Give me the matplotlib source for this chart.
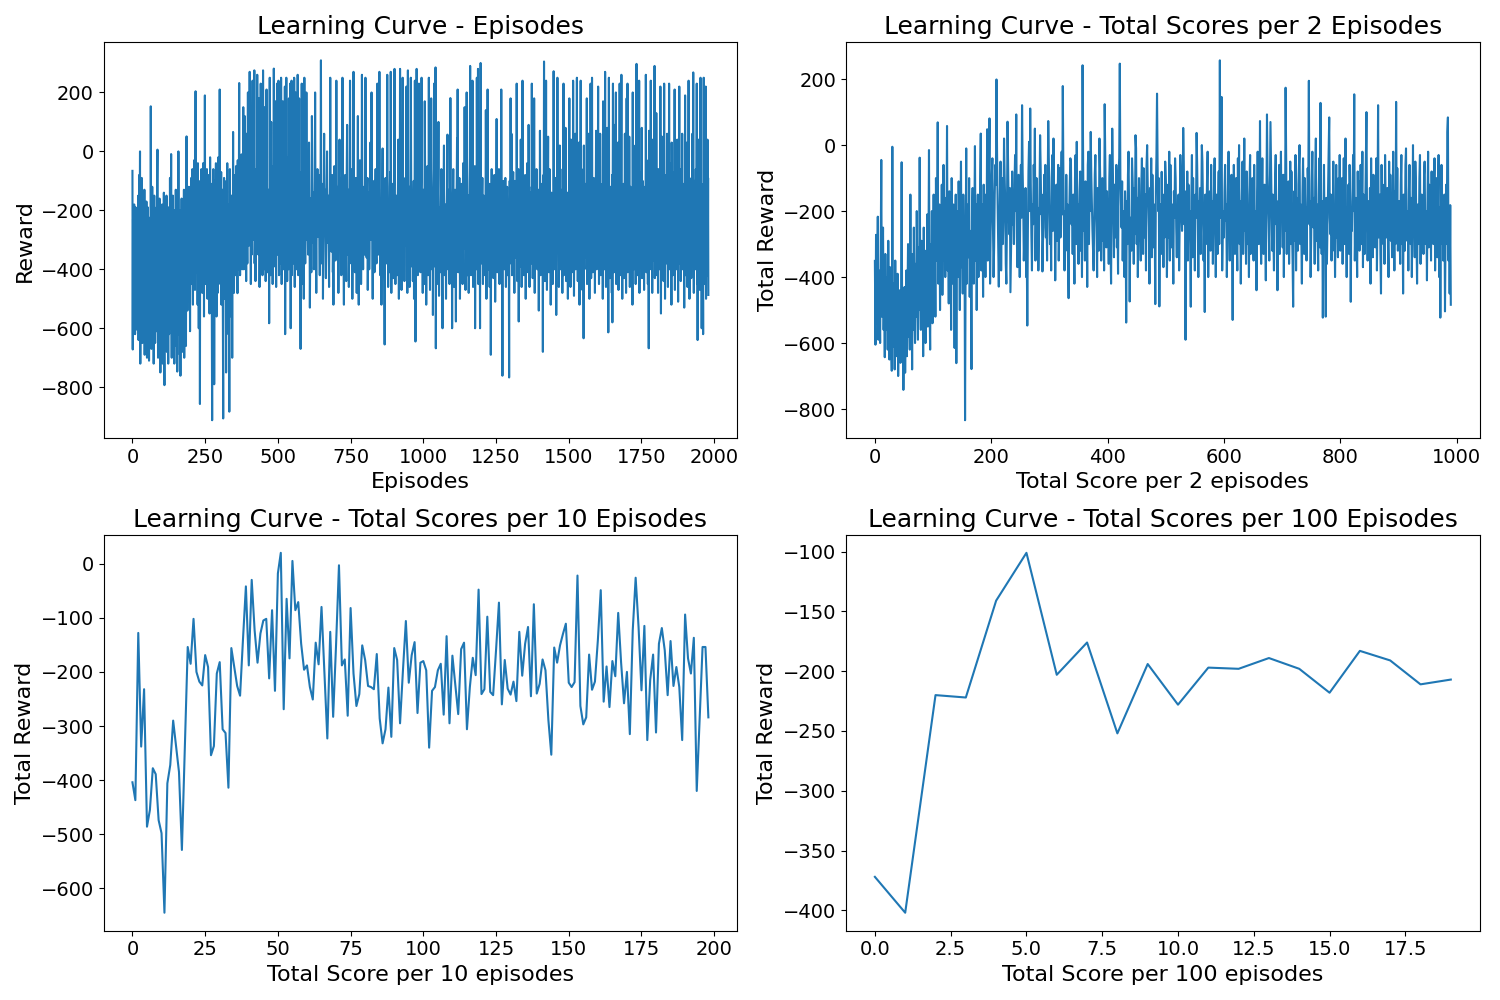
import matplotlib
matplotlib.use('Agg')
from matplotlib import pyplot as plt

# Reward of every episode (1981 episodes)
episode_rewards = [
    # 0-99
    -66, -672, -230, -512, -610, -295, -180, -540, -455, -620, -350, -190, -470, -560, -390, -225, -605, -300, -410, -520,
    -150, -640, -380, -80, -455, -260, 0, -720, -310, -495, -180, -580, -90, -430, -650, -270, -520, -360, -205, -600,
    -440, -130, -690, -340, -510, -240, -620, -395, -170, -560, -700, -300, -450, -190, -615, -520, -260, -710, -380, -480,
    -225, -590, -430, 153, -350, -670, -280, -540, -120, -460, -600, -330, -200, -720, -410, -150, -560, -300, -650, -240,
    -480, -380, -610, -190, -520, -100, 6, -440, -700, -350, -250, -590, -450, -160, -680, -300, -750, -420, -220, -540,
    # 100-199
    -620, -330, -180, -480, -720, -260, -560, -400, -140, -650, -793, -380, -240, -520, -610, -300, -450, -150, -680, -420,
    -260, -560, -350, -720, -190, -470, -620, -280, -520, -90, -400, -600, -330, -9, -480, -700, -240, -560, -380, -150,
    -640, -300, -500, -200, -720, -420, -580, -260, -470, -130, -660, -350, -550, -230, -747, -400, -300, -620, 0, -480,
    -350, -580, -200, -690, -440, -761, -270, -520, -380, -160, -600, -310, -480, -680, -240, -420, -560, -130, -700, -340,
    -460, -250, -590, -380, -660, -200, 51, -430, -310, -540, -180, -400, -260, -510, -120, -350, -450, -230, -610, -300,
    # 200-299
    -180, -380, -90, -300, -450, -220, -60, -340, -520, -140, -260, -400, -30, -310, -200, -470, -120, 204, -350, -240,
    -410, -90, -280, -180, -520, -40, -330, -250, -600, -150, -380, -230, -857, -100, -300, -440, -190, -60, -360, -270,
    -480, -130, -320, -40, -400, -210, -560, -90, -290, 190, -350, -180, -450, -250, -120, -380, -60, -290, -500, -200,
    -330, -80, -420, -240, -170, -550, -300, -20, -380, -200, -460, -110, -280, -650, -912, -250, -130, -400, -60, -320,
    -220, -790, -350, -100, -460, -180, -280, -40, -400, -560, -210, -320, -120, -480, -250, -20, -360, -170, -440, -270,
    # 300-399
    210, -300, -450, -160, -380, -70, -520, -250, -400, -130, -330, -600, -906, -200, -430, -90, -350, -270, -500, -150,
    -380, -240, -750, -100, -460, -300, -40, -520, -220, -350, -620, -180, -420, -883, -280, -60, -480, -330, -200, -560,
    -410, -150, -300, -700, -230, -450, 66, -340, -190, -480, -260, -80, -380, -150, -300, -420, -50, -250, -350, -120,
    -280, -481, -30, -330, -200, -400, -100, 232, -300, -180, -420, -70, -250, -350, -150, -10, -280, -400, -60, -220,
    -330, 150, -180, -400, -90, -260, 120, -350, -200, -30, -300, -440, -150, 60, -250, -380, -100, 200, -320, -180,
    # 400-499
    -250, -160, -60, 270, -180, -320, -240, -450, -200, -90, -350, -130, 30, 240, -140, -280, -30, -300, -210, 275,
    -380, -300, -150, -440, -60, -190, -320, -240, -120, 260, -80, -160, -270, -350, -220, 180, -100, -460, -300, -20,
    -170, 230, -80, -250, -330, -160, -210, -420, -300, 275, -190, -100, -400, -250, -140, 150, -350, -220, -440, -300,
    -80, 210, -120, -260, -350, -410, -200, -130, -360, -240, -583, -190, 250, -100, -60, -420, -300, 100, -240, -150,
    -260, -120, -450, -180, -50, -310, 281, -120, -390, -240, -160, -330, 170, -200, -460, -100, -280, 230, -350, -170,
    # 500-599
    -40, -200, 240, -220, -420, -130, -260, -60, -380, -160, -330, 250, -100, -450, -200, -120, -350, 170, -280, -140,
    -400, -150, -230, -330, 220, -620, -180, -90, -360, 250, -250, -150, -440, -20, -300, -200, -50, -400, 180, -270,
    -120, -350, 230, -210, -600, -80, -290, 240, -420, -170, -230, -320, -40, -250, -380, -100, 250, -220, -460, -160,
    -300, 200, -180, -400, -130, -60, -350, -240, 260, -150, -420, -220, -270, 180, -330, -200, -70, -380, -670, -240,
    -100, -300, 230, -210, -450, -160, 50, -330, -180, -500, -290, 250, -260, -140, -380, -40, -220, -300, 200, -160,
    # 600-699
    -180, -240, -120, -300, -350, -210, -90, 30, -150, -260, -530, -330, -200, -160, -280, -410, -240, 120, -60, -190,
    -250, -310, -180, -140, -400, -360, -220, -100, 200, -120, -270, -330, -480, -300, -210, -170, -60, -230, -290, -200,
    -140, -80, -260, -350, -420, -300, -180, -40, 309, -150, -220, -380, -260, -190, -110, -500, -320, -240, -160, 60,
    -200, -270, -130, -210, -350, -430, -290, -170, -90, 0, -240, -310, -200, -150, -260, -380, -460, -280, -180, -120,
    250, -60, -220, -290, -340, -200, -150, -80, -260, -410, -330, -520, -210, -130, -50, -180, -240, -300, -370, -250,
    # 700-799
    -140, 240, -100, -200, -280, -350, -190, -120, -480, -300, -160, -60, 40, -230, -310, -250, -180, -90, -420, -340,
    -220, -150, 250, -60, -190, -270, -390, -520, -300, -210, -120, -80, -240, -330, -280, -440, -160, -20, 90, -200,
    -260, -350, -180, -130, -460, -320, -240, -150, 240, -100, -210, -290, -380, -250, -170, -60, -500, -310, -220, -140,
    270, -40, -190, -260, -330, -410, -230, -150, -90, -200, -300, -480, -260, -180, -120, 120, -220, -340, -520, -280,
    -190, -100, -30, -250, -310, -200, -450, -300, -160, 260, -70, -220, -330, -400, -270, -180, -120, -240, -350, -210,
    # 800-899
    -130, 250, -50, -200, -280, -360, -230, -150, -90, -470, -310, -220, -140, -260, -400, -330, -190, -110, 30, -240,
    -300, -180, 200, -80, -250, -360, -500, -290, -200, -150, -230, -100, -410, -320, -210, -160, -60, -260, -340, -380,
    -220, -140, 230, -40, -190, -270, -350, -240, -160, 270, -120, -210, -420, -300, -180, -250, -520, -330, -230, -100,
    10, -170, -260, -300, -220, -380, -440, -655, -280, -150, -90, -200, -310, -380, -240, -140, 260, -60, -220, -460,
    -330, -250, -180, -410, -300, -120, -70, -230, 270, -150, -480, -350, -260, -190, -110, -200, -430, -300, -220, -140,
    # 900-999
    -80, 280, -120, -240, -450, -320, -200, -150, -260, -370, -420, -280, -180, -100, 40, -230, -500, -310, -210, -160,
    280, -60, -190, -290, -340, -470, -260, -150, -90, 250, -130, -380, -300, -220, -170, -440, -260, -180, -90, -230,
    -320, -200, 220, -110, -250, -480, -330, 275, -150, -240, -290, -200, -120, -460, -350, -230, -160, 250, -70, -280,
    -390, -300, -200, -140, -440, -260, -180, -100, -500, -310, -230, 240, -160, -645, -380, -250, -190, 280, -90, -200,
    -300, -420, -260, -150, -80, 230, -210, -350, -280, -180, -410, -240, -130, -60, 250, -170, -370, -260, -480, -200,
    # 1000-1099
    -130, -220, -330, -450, -240, 170, -100, -280, -380, -190, -520, -300, -210, -150, -50, -250, -420, -330, -200, 250,
    -140, -260, -360, -470, -230, -160, -90, 180, -200, -310, -400, -280, -170, -555, -250, -120, -60, 230, -220, -390,
    -310, -180, 285, -668, -270, -200, -130, -450, -340, -230, -160, -80, 100, -250, -490, -380, -260, -190, -410, -300,
    -220, -140, -60, -280, -350, -470, -600, -310, -200, -150, -90, 20, -240, -330, -420, -280, -180, -230, -500, -360,
    -250, -160, -100, 57, -300, -400, -260, -190, -130, -350, -450, -280, -210, 181, -120, -230, -330, -410, -250, -600,
    # 1100-1199
    -300, -220, -150, -60, -250, -380, -460, -290, -200, -130, -240, -340, -577, -270, -180, -100, 45, -260, 210, -330,
    -410, -300, -200, -140, -90, -230, -500, -360, -250, -180, -110, -280, -400, -310, -220, -450, -160, -40, -240, -330,
    -270, -190, 150, -120, -260, -470, -350, -240, -170, 200, -90, -300, -420, -280, -200, -150, -480, -330, -230, -100,
    -20, 290, -180, -250, -420, -310, -200, -140, -60, 240, -150, -460, -290, -210, -380, -270, -120, -50, -600, -330,
    -240, -170, -400, -300, 250, -110, -200, -330, 280, -450, -280, -190, -90, -350, -250, -600, -160, 300, -210, -300,
    # 1200-1299
    -380, -230, -160, -90, -290, -450, -320, -210, -150, -260, -350, -200, -420, -300, -180, 140, -100, -500, -260, -330,
    -220, 210, -130, -250, -400, -300, -190, -110, -460, -280, -200, -150, -690, -340, -240, -60, -390, -180, -270, -130,
    -220, -430, -310, -200, -80, -160, -250, -510, -360, -270, -190, -120, 110, -280, -410, -230, -170, -370, -300, -140,
    -60, -230, -450, -320, -200, -140, -380, -260, 210, -150, -290, -420, -761, -330, -210, -100, -250, -190, -300, -400,
    -280, -160, -90, -220, -460, -350, -240, -180, -120, -300, -420, -230, -170, -270, -340, -767, -200, -100, -380, -260,
    # 1300-1399
    180, -120, -250, 60, -230, -420, -310, -200, -140, -70, -290, -380, -250, -480, -160, -100, -320, -220, -180, -360,
    -270, 230, -150, -440, -330, -210, -120, -60, -577, -250, -300, -190, -160, -390, -280, 40, -110, -240, -460, -340,
    -200, 240, -130, -290, -350, -220, -420, -180, -100, -260, -80, -250, -500, -330, -220, -360, -150, -40, -230, -300,
    -410, -260, 90, -170, -120, -460, -320, -240, -300, -200, -140, -380, -270, 230, -90, -190, -430, -310, -230, -350,
    -190, 180, -100, -480, -300, -210, -150, -370, -260, -60, -180, -240, -400, -320, -200, -130, -250, -540, -280, -200,
    # 1400-1499
    -330, 70, -160, -420, -230, -110, -300, -200, -190, -380, -260, -680, -150, -80, -230, 305, -350, -270, -440, -200,
    -120, -280, 240, -370, -220, -470, -300, -190, -140, 50, -340, -250, -410, -190, -60, -300, -230, -160, -520, -280,
    -200, -140, -260, -360, -210, -450, -330, -180, 272, -110, -240, -310, -400, -280, -190, -90, -200, -555, -350, -260,
    -150, 250, -80, -230, -300, -180, -460, -350, -250, 20, -210, -400, -290, -130, -350, -240, -170, -190, -480, -60,
    -300, -210, 230, -420, -160, -270, -330, -350, -200, 80, -110, -440, -280, -240, -330, -210, -140, -500, -260, -220,
    # 1500-1599
    -370, -100, 180, -300, -250, -230, -460, -320, 40, -180, -160, -410, -280, -220, -350, 240, -120, -260, -490, -300,
    -200, -330, 60, -150, -400, -270, -180, -90, 250, -350, -240, -440, -170, -240, -300, 30, -180, -520, -330, -260,
    -130, 240, -380, -210, -60, -190, -320, -470, -260, -230, -150, -634, 20, -280, -400, -140, -190, -330, -250, -110,
    -360, -240, 180, -450, -170, -90, -290, -210, 60, -380, -120, -500, -310, -260, -300, 230, -140, -430, -220, -220,
    250, -330, -180, -410, -160, -260, -90, -210, -370, -200, -480, -150, -240, -150, 70, -310, -400, -280, -210, -280,
    # 1600-1699
    -120, 220, -350, -230, -450, -100, -190, -300, 60, -160, -420, -250, -270, -200, -240, -380, -110, -500, 170, -250,
    -300, 40, -150, -400, -240, 270, -330, -180, -460, -130, -220, -310, 80, -180, -370, -260, -614, -140, 250, -290,
    -200, -430, -150, -260, -120, -240, -350, -220, -480, -80, -580, -170, 230, -300, -250, -110, -410, -150, 90, -330,
    -190, -60, 200, -450, -240, -320, -160, -130, -380, 30, -210, -470, -340, -280, -160, 230, -360, -230, -90, -420,
    -140, 260, -300, -200, -500, -120, -250, -360, -210, -110, -430, -220, -270, 60, -190, -340, -150, -480, -230, 180,
    # 1700-1799
    -330, -150, 230, -410, -260, -80, -190, -350, 50, -220, -460, -140, -120, -300, -270, -240, -380, -160, -180, -520,
    200, -280, -160, -240, -400, -230, -110, -330, -90, 20, -450, -200, -260, 297, -310, -170, -420, -150, -250, -360,
    -40, -210, 240, -480, -140, -300, -190, -260, -380, -70, -180, 80, -430, -230, -100, -160, -340, -200, -230, -470,
    -150, -290, -120, -380, -240, 260, -170, -410, -30, -310, -200, -220, -450, -130, -280, -668, 70, -230, -350, -90,
    -260, -190, 240, -400, -110, -320, -150, -480, -210, 40, -160, -370, -250, -240, -300, 290, -430, -180, -200, -270,
    # 1800-1899
    -350, 130, -200, -420, -150, -230, -290, -480, -60, -230, -330, -180, -120, -400, -260, 220, -190, -550, -100, -300,
    -170, 50, -360, -240, -90, -150, -440, -210, 230, -310, -160, -500, -80, -270, -200, -190, -380, -130, 60, -330,
    -250, -460, -120, -180, -300, 230, -230, -400, -40, -150, -350, -200, -280, -520, 30, -210, -130, -230, -420, -260,
    -190, -70, -340, -220, 210, -470, -150, -300, -180, -250, -400, -100, -170, 40, -330, -230, -510, -140, -200, -280,
    220, -380, -120, -290, -170, -440, -210, -60, -320, -160, 60, -400, -250, -110, -190, -350, -200, -530, -140, -240,
    # 1900-1980
    190, -300, -420, -80, -200, -330, 30, -150, -460, -130, -260, -190, 240, -380, -110, -500, -160, -240, -310, -210,
    -170, -430, -90, -260, -200, 60, -350, -140, 268, -300, -480, -100, -220, -160, -240, -400, -250, -60, -330, -190,
    230, -450, -120, -640, -170, -280, -200, 40, -380, -240, -60, -470, -150, 250, -310, -210, -110, -600, -180, -240,
    -280, -400, -620, -150, 250, -230, -160, -450, 70, -300, -210, 220, -500, -130, -180, -350, -260, 40, -420, -90,
    -487,
]

# Total score per 2 episodes (991 points)
scores_2 = [
    # 0-99
    -351, -605, -272, -540, -420, -217, -590, -380, -470, -600, -300, -45, -520, -410, -250, -560, -420, -643, -330, -480,
    -560, -400, -620, -290, -510, -650, -370, -450, -580, -684, -5, -530, -610, -420, -680, -350, -590, -460, -640, -390,
    -700, -520, -600, -440, -660, -480, -52, -620, -550, -742, -600, -430, -690, -510, -380, -640, -470, -300, -580, -420,
    -620, -150, -530, -400, -680, -330, -560, -250, -470, -600, -360, -520, -200, -440, -590, -310, -500, -38, -420, -560,
    -290, -480, -380, -640, -250, -520, -430, -600, -320, -470, -210, -550, -360, -15, -480, -620, -300, -420, -200, -540,
    # 100-199
    -380, -150, -460, -280, -520, -100, -350, -230, 69, -420, -300, -180, -500, -250, -380, -120, -454, -280, -60, -350,
    -220, -400, -160, -300, 58, -380, -250, -480, -140, -330, -200, -560, -100, -290, -420, -180, -350, -615, -260, -150,
    -661, -320, -200, -400, -110, -280, -500, -230, -50, -370, -260, -450, -150, -300, -220, -834, -350, -10, -420, -250,
    -180, -340, -100, -460, -260, -380, -679, -200, -130, -300, -420, -240, -3, -350, -180, -500, -270, -150, -400, -220,
    -320, -100, 35, -380, -250, -180, -460, -120, -300, -220, -400, -150, -280, 48, -350, -200, -120, 81, -420, -260,
    # 200-299
    -180, -90, -40, -250, -400, -310, -150, -60, -120, 199, -20, -180, -300, -429, -260, -140, -50, -380, -200, -100,
    -300, -210, 20, -90, -170, -360, -420, -230, 71, -60, -190, -270, -130, -446, -320, -200, -80, -240, -160, -300,
    -120, -30, -200, 93, -280, -370, -240, -90, -250, -400, -150, -60, -220, 121, -80, -180, -350, -270, -290, -130,
    -400, -310, -547, -260, -80, 10, -200, 111, -120, -270, -380, -180, -240, -60, -160, 50, -350, -220, -100, -290,
    -190, -380, -280, -140, 30, -70, -210, -150, -383, -290, -250, -90, -180, -60, -280, -200, -350, -120, 73, -40,
    # 300-399
    -180, -300, -220, -380, -100, -30, -260, 20, -200, -150, -410, -240, -120, -290, -190, -60, -350, -230, -70, -280,
    -130, -20, -210, 179, -80, -250, -380, -200, -320, -90, -260, -180, -350, -464, -220, -120, -40, -50, -240, -190,
    -330, -150, -270, -420, -100, -30, -300, 10, -210, -180, -360, -250, -140, -80, -320, -200, -400, 242, -60, -260,
    -220, -350, -110, -280, -190, -430, -60, -20, -300, -150, -200, 40, -90, -180, -260, -320, -380, -220, -90, -30,
    -170, -250, -400, -130, -210, -320, 20, -70, -180, -350, -230, -100, -290, -160, -380, 124, -50, -200, -310, -140,
    # 400-499
    -270, -190, -360, -100, -30, -300, -420, -150, 50, -60, -200, -340, -120, -280, -180, -60, -310, -220, -390, -80,
    -40, 247, -100, -180, -250, -110, -350, -200, -280, -400, -140, -230, -538, -170, -300, -90, -20, -200, -474, -250,
    -220, -320, -40, -100, -180, -360, -130, -270, 30, -10, -300, -160, -400, -240, -100, -290, -200, -350, -120, -40,
    -190, -330, -70, -230, -280, -150, -380, -60, 0, -120, -170, -250, -420, -130, -260, -40, -340, -90, -230, -310,
    -180, -250, -482, -140, -30, 156, -60, -200, -100, -489, -260, -180, -330, -81, -240, -200, -370, -150, -280, -50,
    # 500-599
    -100, -160, -400, -240, -120, -280, -20, -350, -60, -230, -310, -180, -260, -420, -140, -220, -40, -100, -250, -340,
    -190, -270, -150, -380, -230, -30, -100, -200, -260, -170, 52, -50, -240, -140, -590, -210, -280, -80, -350, -120,
    -250, -200, -300, -490, -160, -30, -340, -100, -270, -190, -380, -150, -220, 37, -60, -200, -400, -170, -260, -130,
    -330, -210, 0, -50, -180, -350, -240, -506, -150, -300, -220, -100, -20, -400, -190, -280, -140, -320, -60, -250,
    -170, -360, -230, -120, -40, -200, -400, -150, -260, -330, -180, -80, -300, 257, -220, -30, 146, -380, -250, -200,
    # 600-699
    -280, -140, -60, -230, -180, -400, -260, -120, -20, -210, -350, -170, -240, -90, -310, -530, -200, -60, -150, -330,
    -220, -100, -280, -380, -40, -250, 0, -300, -170, -420, -230, -140, -50, -330, -200, 20, -260, -180, -360, -80,
    -150, -300, -210, -400, -120, -30, -330, -190, -240, -100, -280, -350, -60, -230, -310, -200, -440, -140, -20, -180,
    -300, -220, 73, -250, -360, -150, -40, -190, -330, -230, -120, -270, -410, -200, 93, -90, -170, -240, -350, -130,
    70, -60, -200, -320, -150, -280, -380, -220, -100, -30, -240, -170, -440, -200, -260, -60, -330, -190, -20, -230,
    # 700-799
    -150, -310, -90, -400, -130, -260, 174, -40, -330, -170, -280, -110, -360, -240, -50, -300, -80, -250, -350, -490,
    -210, -140, -290, -30, -380, -160, -260, -320, -120, -60, 0, -300, -180, -270, -420, -150, -40, -200, -330, -100,
    -260, -190, -350, -220, -70, -130, 195, -240, -170, -400, -280, -110, -20, -200, -250, -160, -360, -90, 20, -290,
    -180, -270, -380, -150, -40, -310, 128, -200, -330, -170, -523, -250, -60, -290, -210, -520, -160, -360, -240, -100,
    -20, 84, -220, -270, -150, -350, -200, -320, -50, -260, -190, -400, -230, -60, -280, -170, -340, -100, -250, -30,
    # 800-899
    -320, -200, -270, -100, -360, -230, -40, -300, -150, 20, -260, -400, -190, -280, -120, -330, -60, -170, -475, -210,
    -260, -140, -30, -200, 154, -350, -230, -160, -280, -400, -80, -250, -110, -320, -220, -60, -300, -180, -20, -370,
    -150, -240, -330, -190, -50, 100, -220, -350, -170, -260, -300, -130, -420, -40, -250, -180, -340, -90, -270, -200,
    -310, -160, -40, -380, -200, 121, -280, -230, -150, -330, -450, -60, -260, -120, -300, -190, -360, -30, -170, -280,
    -220, -130, -310, -400, -50, -250, -90, -290, -200, -340, -160, -20, -220, -380, -140, -300, 131, -240, -70, -320,
    # 900-990
    -250, -170, -280, -360, -120, -30, -300, -200, -450, -150, -260, -320, -60, -10, -240, -290, -200, -380, -140, -60,
    -220, -300, -160, -400, -230, 0, -270, -190, -340, -50, -130, -280, -420, -180, -250, -300, -100, -30, -360, -200,
    -150, -280, -240, -330, -90, -50, -260, -300, -200, -410, -160, -20, -310, -120, -270, -200, -350, -80, -260, -230,
    -300, -140, -40, -380, -200, -100, -280, -340, -160, -30, -400, -190, -523, -240, -60, -300, -180, -350, -220, -150,
    -504, -260, -120, -300, 40, 84, -350, -200, -450, -182, -484,
]

# Total score per 10 episodes (199 points)
scores_10 = [
    -404, -437, -128, -338, -232, -486, -455, -378, -389, -474,
    -498, -645, -406, -372, -290, -338, -385, -529, -340, -154,
    -185, -102, -200, -218, -225, -169, -191, -354, -337, -203,
    -182, -306, -313, -414, -156, -191, -226, -244, -140, -42,
    -188, -30, -123, -183, -129, -105, -102, -212, -86, -235,
    -18, 20, -269, -65, -175, 5, -86, -71, -148, -196,
    -188, -228, -251, -146, -186, -80, -203, -323, -126, -283,
    -150, -3, -188, -177, -281, -82, -203, -263, -241, -151,
    -178, -226, -228, -232, -167, -286, -332, -306, -229, -320,
    -156, -178, -295, -197, -106, -220, -169, -145, -276, -183,
    -180, -197, -340, -235, -228, -197, -185, -279, -134, -295,
    -170, -225, -278, -158, -146, -306, -228, -174, -206, -48,
    -241, -232, -98, -237, -243, -160, -72, -260, -178, -231,
    -242, -218, -254, -126, -207, -148, -117, -245, -75, -240,
    -222, -177, -197, -289, -353, -155, -183, -151, -130, -111,
    -220, -228, -219, -22, -263, -297, -284, -168, -233, -218,
    -142, -49, -255, -190, -265, -180, -208, -91, -183, -258,
    -200, -315, -123, -26, -117, -234, -115, -326, -215, -168,
    -312, -148, -119, -160, -243, -143, -226, -191, -228, -326,
    -94, -175, -203, -137, -420, -287, -154, -154, -284,
]

# Total score per 100 episodes (20 points)
scores_100 = [-372, -402, -220, -222, -141, -101, -203, -176, -252, -194,
              -228, -197, -198, -189, -198, -218, -183, -191, -211, -207]

panels = [
    (episode_rewards, 'Learning Curve - Episodes', 'Episodes', 'Reward'),
    (scores_2, 'Learning Curve - Total Scores per 2 Episodes', 'Total Score per 2 episodes', 'Total Reward'),
    (scores_10, 'Learning Curve - Total Scores per 10 Episodes', 'Total Score per 10 episodes', 'Total Reward'),
    (scores_100, 'Learning Curve - Total Scores per 100 Episodes', 'Total Score per 100 episodes', 'Total Reward'),
]

fig, axes = plt.subplots(2, 2, figsize=(15, 10))
for ax, (values, title, xlabel, ylabel) in zip(axes.flat, panels):
    ax.plot(range(len(values)), values)
    ax.set_title(title, fontsize=18)
    ax.set_xlabel(xlabel, fontsize=16)
    ax.set_ylabel(ylabel, fontsize=16)
    ax.tick_params(labelsize=14)

plt.tight_layout()
plt.savefig('out.png', dpi=100)
